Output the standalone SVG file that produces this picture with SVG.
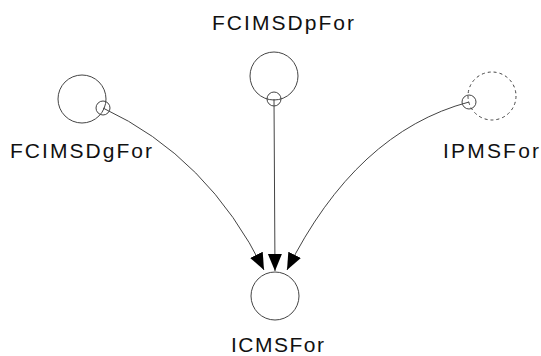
<svg xmlns="http://www.w3.org/2000/svg" width="541" height="356" viewBox="0 0 541 356">
<defs>
<style>
.node{fill:none;stroke:#444;stroke-width:1}
.dashed{stroke-dasharray:3,3}
.port{fill:none;stroke:#444;stroke-width:1}
.edge{fill:none;stroke:#444;stroke-width:1}
.label{font-family:"Liberation Sans",Arial,sans-serif;font-size:21px;fill:#111}
</style>
<marker id="arrow" markerUnits="userSpaceOnUse" markerWidth="18" markerHeight="16" refX="17" refY="8" orient="auto">
<path d="M0,1 L17,8 L0,15 Z" fill="#000"/>
</marker>
</defs>
<rect width="541" height="356" fill="#fff"/>
<g id="connectors">
<path class="edge" d="M103,108 Q208,157 264,270" marker-end="url(#arrow)"/>
<path class="edge" d="M274,99 L275,271" marker-end="url(#arrow)"/>
<path class="edge" d="M469,102 Q356,132 287,270" marker-end="url(#arrow)"/>
</g>
<g id="FCIMSDgFor">
<circle class="node" cx="82" cy="99" r="24"/>
<circle class="port" cx="103" cy="108" r="7"/>
<text class="label" x="10" y="158" textLength="142" lengthAdjust="spacing">FCIMSDgFor</text>
</g>
<g id="FCIMSDpFor">
<circle class="node" cx="274" cy="76" r="24"/>
<circle class="port" cx="274" cy="99" r="7"/>
<text class="label" x="212" y="30" textLength="142" lengthAdjust="spacing">FCIMSDpFor</text>
</g>
<g id="IPMSFor">
<circle class="node dashed" cx="492" cy="96" r="24"/>
<circle class="port" cx="469" cy="102" r="7"/>
<text class="label" x="443" y="158" textLength="96" lengthAdjust="spacing">IPMSFor</text>
</g>
<g id="ICMSFor">
<circle class="node" cx="275" cy="296" r="24"/>
<text class="label" x="231" y="352" textLength="93" lengthAdjust="spacing">ICMSFor</text>
</g>
</svg>
